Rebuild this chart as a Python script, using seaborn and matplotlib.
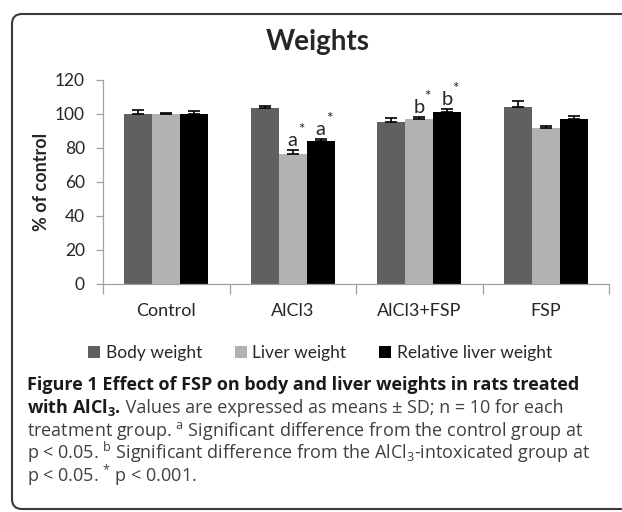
import numpy as np
import pandas as pd
import matplotlib
matplotlib.use("Agg")
import matplotlib.pyplot as plt
import seaborn as sns
from matplotlib.patches import FancyBboxPatch
from matplotlib.transforms import IdentityTransform

# --- data ---
groups = ["Control", "AlCl3", "AlCl3+FSP", "FSP"]
series = ["Body weight", "Liver weight", "Relative liver weight"]
body = [100.0, 103.3, 95.5, 104.3]
body_sd = [2.5, 1.6, 2.4, 3.5]
liver = [100.0, 76.5, 97.3, 91.6]
liver_sd = [0.5, 2.4, 1.0, 1.4]
rel_liver = [100.0, 84.3, 101.0, 97.1]
rel_liver_sd = [1.5, 0.8, 1.8, 1.8]
colors = ["#606060", "#b2b2b2", "#000000"]

# significance letters: (group, series index, letter)
annot_group = ["AlCl3", "AlCl3", "AlCl3+FSP", "AlCl3+FSP"]
annot_series = [1, 2, 1, 2]
annot_letter = ["a", "a", "b", "b"]

W, H = 622, 512

sns.set_theme(style="white")
plt.rcParams["font.family"] = ["Lato", "DejaVu Sans"]
plt.rcParams["mathtext.fontset"] = "custom"
plt.rcParams["mathtext.rm"] = "Open Sans"
plt.rcParams["mathtext.it"] = "Open Sans:italic"
plt.rcParams["mathtext.bf"] = "Open Sans:bold"

values = [body, liver, rel_liver]
sds = [body_sd, liver_sd, rel_liver_sd]
df = pd.DataFrame({
    "group": groups * 3,
    "series": np.repeat(series, len(groups)),
    "value": body + liver + rel_liver,
})

fig = plt.figure(figsize=(W / 100, H / 100), dpi=100)
ax = fig.add_axes([103 / W, 1 - 284 / H, 506 / W, 204 / H])

sns.barplot(data=df, x="group", y="value", hue="series", palette=colors,
            saturation=1, width=0.664, errorbar=None, linewidth=0, ax=ax)
bar_sets = list(ax.containers)

# upper-only error bars, Excel style
for i, cont in enumerate(bar_sets):
    xs = [p.get_x() + p.get_width() / 2 for p in cont.patches]
    ax.errorbar(xs, values[i], yerr=[np.zeros(len(xs)), sds[i]], fmt="none",
                ecolor="black", elinewidth=1.2, capsize=4, capthick=1.2, zorder=3)

# significance letters
for g, s, letter in zip(annot_group, annot_series, annot_letter):
    gi = groups.index(g)
    p = bar_sets[s].patches[gi]
    x = p.get_x() + p.get_width() / 2
    y = values[s][gi] + sds[s][gi]
    ax.annotate(letter, (x, y), xytext=(0, 3), textcoords="offset points",
                ha="center", va="baseline", fontsize=14.5)
    ax.annotate("*", (x, y), xytext=(6, 14.5), textcoords="offset points",
                ha="center", va="center", fontsize=11)

ax.set_ylim(0, 120)
ax.set_xlim(-0.5, 3.5)
ax.set_yticks(range(0, 121, 20))
ax.set_xticks(range(len(groups)))
ax.set_xticklabels(groups)
ax.set_xticks([-0.5, 0.5, 1.5, 2.5, 3.5], minor=True)
ax.tick_params(axis="y", length=5, width=0.9, color="#a0a0a0", pad=8,
               labelsize=12.5, left=True)
ax.tick_params(axis="x", which="major", length=0, pad=14, labelsize=13)
ax.tick_params(axis="x", which="minor", length=7, width=0.9,
               color="#a0a0a0", bottom=True)
sns.despine(ax=ax)
for sp in ["left", "bottom"]:
    ax.spines[sp].set_color("#a0a0a0")
    ax.spines[sp].set_linewidth(0.9)
ax.set_xlabel("")
ax.set_ylabel("% of control", fontsize=13, fontweight="bold")
ax.yaxis.set_label_coords(-0.105, 0.5)

sns.move_legend(ax, "center", bbox_to_anchor=(320 / W, 1 - 353 / H),
                bbox_transform=fig.transFigure, ncol=3, frameon=False,
                title=None, fontsize=12.5, handlelength=0.7, handleheight=0.7,
                handletextpad=0.3, columnspacing=1.9)

fig.suptitle("Weights", x=318 / W, y=1 - 50 / H, va="baseline",
             fontsize=20, fontweight="bold")

# caption below the chart
renderer = fig.canvas.get_renderer()


def draw_runs(x_px, base_px, runs, size=13.0):
    x = x_px
    for txt, weight in runs:
        t = fig.text(x / W, 1 - base_px / H, txt, fontsize=size,
                     fontweight=weight, family="Open Sans",
                     color="#1a1a1a" if weight == "bold" else "#404040",
                     ha="left", va="baseline")
        x += t.get_window_extent(renderer=renderer).width


cap_lines = [
    [("Figure 1 Effect of FSP on body and liver weights in rats treated", "bold")],
    [(r"with AlCl$_\mathbf{3}$.", "bold"),
     (" Values are expressed as means \u00b1 SD; n = 10 for each", "normal")],
    [(r"treatment group. $^{\mathrm{a}}$ Significant difference from the control group at", "normal")],
    [(r"p < 0.05. $^{\mathrm{b}}$ Significant difference from the AlCl$_{3}$-intoxicated group at", "normal")],
    [(r"p < 0.05. $^{*}$ p < 0.001.", "normal")],
]
for k, runs in enumerate(cap_lines):
    draw_runs(27, 390 + 23 * k, runs)

# rounded frame (runs off the right edge like the original crop)
frame = FancyBboxPatch((12, 3), 700, 495, boxstyle="round,pad=0,rounding_size=10",
                       transform=IdentityTransform(), fill=False,
                       edgecolor="#3a3a3a", linewidth=1.5)
fig.add_artist(frame)

fig.savefig("out.png", dpi=100)
